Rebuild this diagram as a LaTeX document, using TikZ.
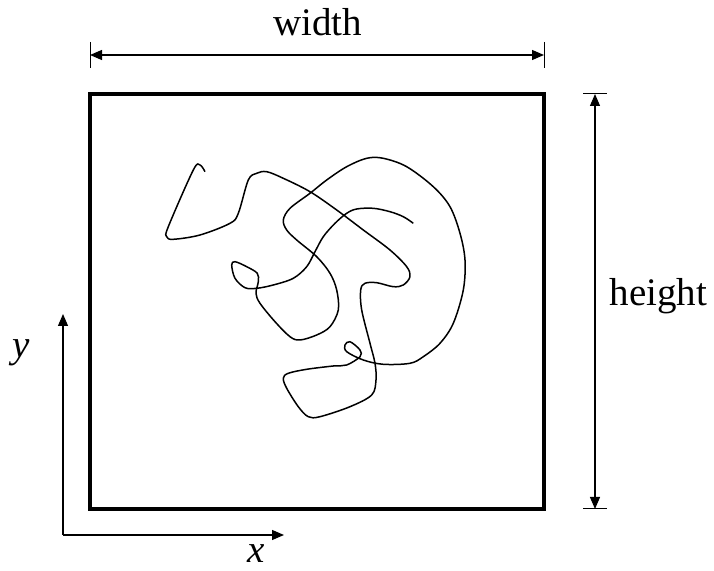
\documentclass[tikz,border=0pt]{standalone}
\usepackage{fontspec}
\setmainfont{Liberation Serif}
\usetikzlibrary{arrows.meta}
\begin{document}
\begin{tikzpicture}[x=0.5pt,y=-0.5pt,
  dimline/.style={line width=0.6pt,{Triangle[length=6pt,width=5pt]}-{Triangle[length=6pt,width=5pt]}},
  axisline/.style={line width=0.6pt,-{Triangle[length=6pt,width=5pt]}},
  tickline/.style={line width=0.5pt},
  lbl/.style={font=\fontsize{19.5}{22}\selectfont, inner sep=0pt, anchor=base},
  walk/.style={line width=0.75pt, line join=round}]
\useasboundingbox (0,0) rectangle (714,571);
% box
\draw[line width=1.6pt] (90,94) rectangle (544,509);
% width dimension
\coordinate (wl) at (90,55);
\coordinate (wr) at (544,55);
\draw[tickline] (90,42) -- (90,68);
\draw[tickline] (544,42) -- (544,68);
\draw[dimline] (wl) -- (wr);
\node[lbl] (wlab) at (317.5,36) {width};
% height dimension
\coordinate (ht) at (595,94);
\coordinate (hb) at (595,509);
\draw[tickline] (583,94) -- (607,94);
\draw[tickline] (583,509) -- (607,509);
\draw[dimline] (ht) -- (hb);
\node[lbl] (hlab) at (658.5,306) {height};
% axes
\coordinate (o) at (63,535);
\coordinate (ytip) at (63,314);
\coordinate (xtip) at (284,535);
\draw[axisline] (o) -- (ytip);
\draw[axisline] (o) -- (xtip);
\node[lbl] (ylab) at (21,358) {\itshape y};
\node[lbl] (xlab) at (256,563) {\itshape x};
% random walk
\draw[walk] plot[smooth, tension=0.55] coordinates {
(205,171.7) (200,165) (193.3,170) (168.3,226.7) (166.7,236.7) (173.3,239.3)
(200,235) (230,223.3) (238.3,213.3) (248.3,180) (256.7,173.3) (266.7,171.7)
(283.3,178.3) (310,191.7) (336.7,210) (363.3,230) (390,250) (406.7,266.7)
(410,276.7) (403.3,285) (393.3,286.7) (376.7,282.7) (365,283.3) (360.7,290)
(361.7,310) (370,343.3) (375,363.3) (376,380) (371.7,395) (350,406.7)
(320,416.7) (308.3,416.7) (298.3,406.7) (286.7,388.3) (283.3,378.3) (288.3,373.3)
(306.7,369.3) (333.3,366) (346.7,365) (360,356.7) (360,350) (350,341.7)
(345,345) (346.7,351.7) (363.3,360) (383.3,364.3) (410,363.3) (423.3,356.7)
(440,343.3) (453.3,323.3) (463.3,290) (465,260) (460,233.3) (450,206.7)
(433.3,186.7) (406.7,166.7) (383.3,158.3) (366.7,158.3) (346.7,166.7) (326.7,180)
(310,193.3) (290,208.3) (283.3,220) (286.7,230) (296.7,240) (316.7,256.7)
(330,273.3) (336.7,290) (338.3,310) (330,326.7) (316.7,335) (300,340)
(290,336.7) (275,321.7) (260,303.3) (256,293.3) (258.3,281.7) (257.3,273.3)
(246.7,266.7) (235,261.7) (231.7,265) (235,278.3) (245,287.7) (256.7,288.3)
(273.3,285) (293.3,278.3) (306.7,266.7) (315,251.7) (323.3,236.7) (335,223.3)
(346.7,213.3) (356.7,209) (373.3,208.3) (390,211.7) (403.3,216.7) (413.3,223.3)
};
\end{tikzpicture}
\end{document}
